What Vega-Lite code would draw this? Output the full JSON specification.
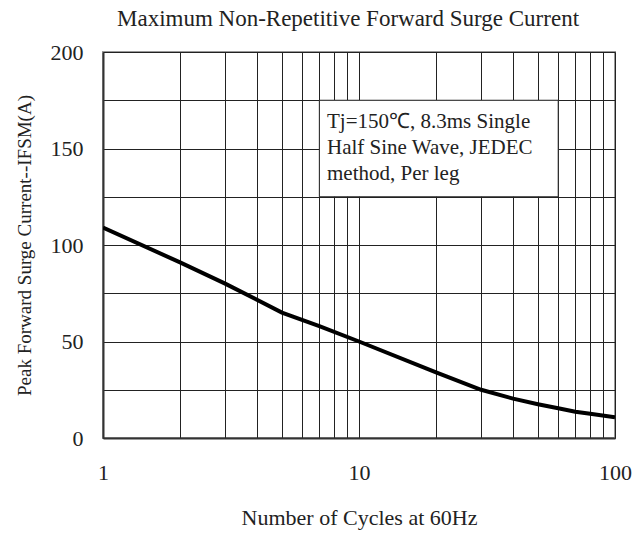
{
  "$schema": "https://vega.github.io/schema/vega-lite/v6.json",
  "autosize": "none",
  "width": 512,
  "height": 386,
  "padding": {"left": 103, "top": 52, "right": 29, "bottom": 98},
  "background": "white",
  "config": {
    "font": "Liberation Serif",
    "view": {"stroke": "#999", "strokeWidth": 2},
    "text": {"font": "Liberation Serif"},
    "axis": {"labelFont": "Liberation Serif", "titleFont": "Liberation Serif", "labelColor": "#222", "titleColor": "#222", "titleFontWeight": "normal"}
  },
  "title": {
    "text": "Maximum Non-Repetitive Forward Surge Current",
    "fontSize": 23,
    "font": "Liberation Serif",
    "fontWeight": "normal",
    "color": "#222",
    "anchor": "middle",
    "dx": -11,
    "offset": 10
  },
  "data": {
    "values": [
      {"cycles": 1, "current": 109},
      {"cycles": 2, "current": 91},
      {"cycles": 3, "current": 80},
      {"cycles": 5, "current": 65},
      {"cycles": 7, "current": 58},
      {"cycles": 10, "current": 50},
      {"cycles": 20, "current": 34},
      {"cycles": 30, "current": 25},
      {"cycles": 40, "current": 20.4},
      {"cycles": 50, "current": 17.5},
      {"cycles": 60, "current": 15.4},
      {"cycles": 70, "current": 13.6},
      {"cycles": 80, "current": 12.6},
      {"cycles": 100, "current": 10.8}
    ]
  },
  "layer": [
    {
      "mark": {"type": "line", "color": "black", "strokeWidth": 4, "clip": true},
      "encoding": {
        "x": {
          "field": "cycles", "type": "quantitative",
          "scale": {"type": "log", "domain": [1, 100], "nice": false},
          "axis": {
            "title": "Number of Cycles at 60Hz",
            "values": [1,2,3,4,5,6,7,8,9,10,20,30,40,50,60,70,80,90,100],
            "labelExpr": "(datum.value == 1 || datum.value == 10 || datum.value == 100) ? datum.label : ''",
            "labelFontSize": 22,
            "titleFontSize": 22,
            "labelPadding": 24,
            "titlePadding": 24,
            "ticks": false,
            "grid": true,
            "gridColor": "#222",
            "gridWidth": 1,
            "gridOpacity": 1,
            "domainColor": "#333",
            "domainWidth": 2,
            "labelFlush": false,
            "labelOverlap": false
          }
        },
        "y": {
          "field": "current", "type": "quantitative",
          "scale": {"domain": [0, 200], "nice": false},
          "axis": {
            "title": "Peak Forward Surge Current--IFSM(A)",
            "values": [0,25,50,75,100,125,150,175,200],
            "labelExpr": "datum.value % 50 == 0 ? datum.label : ''",
            "labelFontSize": 22,
            "titleFontSize": 19,
            "labelPadding": 20,
            "titlePadding": 16,
            "ticks": false,
            "grid": true,
            "gridColor": "#222",
            "gridWidth": 1,
            "gridOpacity": 1,
            "domainColor": "#333",
            "domainWidth": 2,
            "labelOverlap": false
          }
        }
      }
    },
    {
      "data": {"values": [{}]},
      "mark": {"type": "rect", "fill": "white", "stroke": "#222", "strokeWidth": 1},
      "encoding": {
        "x": {"datum": 7},
        "x2": {"datum": 60},
        "y": {"datum": 125},
        "y2": {"datum": 175}
      }
    },
    {
      "data": {"values": [{}]},
      "mark": {"type": "text", "align": "left", "baseline": "middle", "fontSize": 21, "lineHeight": 26, "color": "#222", "font": "Liberation Serif"},
      "encoding": {
        "x": {"datum": 7.5},
        "y": {"datum": 163.5},
        "text": {"value": ["Tj=150℃, 8.3ms Single", "Half Sine Wave, JEDEC", "method, Per leg"]}
      }
    }
  ]
}
